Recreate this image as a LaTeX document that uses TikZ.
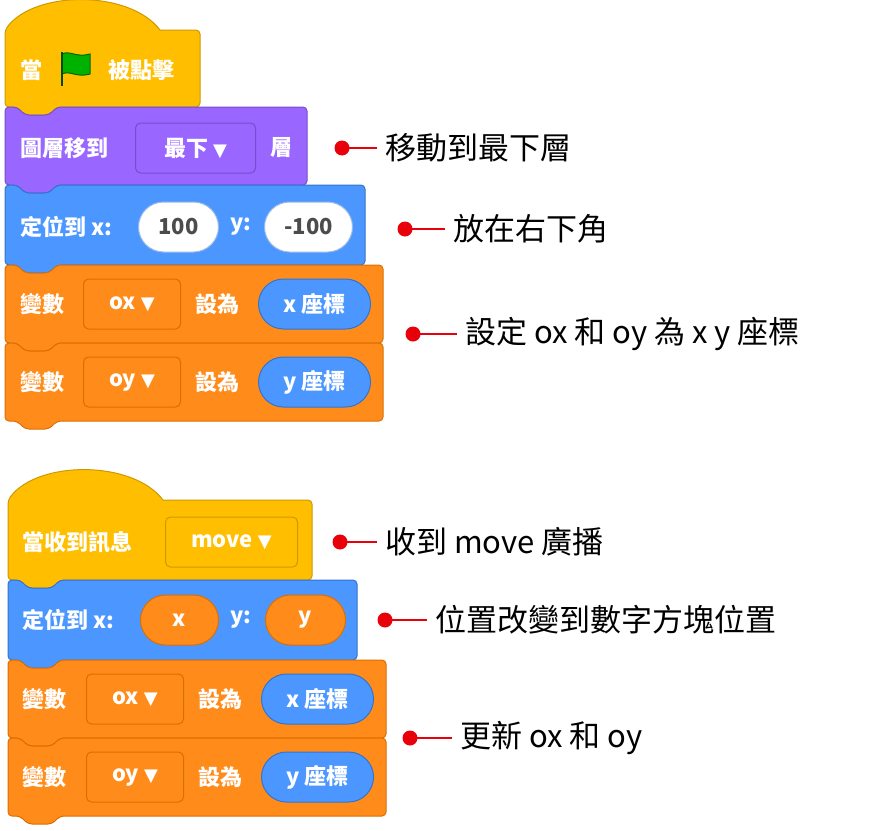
\documentclass[tikz,border=0pt]{standalone}
\usepackage{fontspec}
\setmainfont{Noto Sans CJK TC}
\newfontfamily\dejavu{DejaVu Sans}
\definecolor{yel}{HTML}{FFBF00}\definecolor{yelb}{HTML}{CC9900}
\definecolor{pur}{HTML}{9966FF}\definecolor{purb}{HTML}{774DCB}
\definecolor{blu}{HTML}{4C97FF}\definecolor{blub}{HTML}{3373CC}
\definecolor{ora}{HTML}{FF8C1A}\definecolor{orab}{HTML}{DB6E00}
\definecolor{redd}{HTML}{E8000B}
\newcommand\blk[6]{% x y w h fill stroke
  \draw[fill=#5,draw=#6,line width=1pt,rounded corners=4pt]
   (#1,#2) -- (#1+12,#2) -- (#1+20,#2+8) -- (#1+44,#2+8) -- (#1+52,#2) -- (#1+#3,#2) -- (#1+#3,#2+#4)
   -- (#1+52,#2+#4) -- (#1+44,#2+#4+8) -- (#1+20,#2+#4+8) -- (#1+12,#2+#4) -- (#1,#2+#4) -- cycle;}
\newcommand\hatblk[6]{%
  \draw[fill=#5,draw=#6,line width=1pt,rounded corners=4pt]
   (#1,#2) [sharp corners].. controls (#1+30,#2-40) and (#1+125,#2-40) .. (#1+155,#2) [rounded corners=4pt] -- (#1+#3,#2) -- (#1+#3,#2+#4)
   -- (#1+52,#2+#4) -- (#1+44,#2+#4+8) -- (#1+20,#2+#4+8) -- (#1+12,#2+#4) -- (#1,#2+#4) -- cycle;}
\tikzset{
 btxt/.style={text=white,font=\fontsize{22}{24}\selectfont\bfseries,anchor=west,inner sep=0},
 dd/.style={draw=#1,line width=1pt,rounded corners=5pt,minimum height=50pt,text=white,font=\fontsize{22}{24}\selectfont\bfseries,anchor=west},
 ov/.style={rounded corners=25pt,minimum height=50pt,line width=1pt,font=\fontsize{22}{24}\selectfont\bfseries,anchor=west},
 ann/.style={font=\fontsize{31}{34}\selectfont,anchor=west,inner sep=0},
 dot/.style={circle,fill=redd,inner sep=0,minimum size=15pt},
}
\newcommand\tri{\ {\dejavu\fontsize{18}{20}\selectfont ▼}}
\begin{document}
\begin{tikzpicture}[x=1pt,y=-1pt]
\useasboundingbox (0,0) rectangle (888,830);
% script 1
\hatblk{5}{30}{195}{77}{yel}{yelb}
\node[btxt] (t1) at (20,70) {當};
\begin{scope}[shift={(62,54)}]
 \draw[draw=green!40!black,line width=1pt,fill=green!70!black]
  (0,0) .. controls (8,-4) and (14,4) .. (28,0) -- (28,20) .. controls (14,24) and (8,16) .. (0,20) -- cycle;
 \draw[green!30!black,line width=2.5pt] (0,-2) -- (0,32);
\end{scope}
\node[btxt] (t2) at (108,70) {被點擊};
\blk{5}{107}{302}{78}{pur}{purb}
\node[btxt] (p1) at (20,148) {圖層移到};
\node[dd=purb,fill=pur,minimum width=120pt] (p2) at (135,148) {最下\tri};
\node[btxt] (p3) at (270,148) {層};
\blk{5}{185}{360}{80}{blu}{blub}
\node[btxt] (b1) at (20,227) {定位到 x:};
\node[ov,fill=white,draw=blub!50,text=black!70,minimum width=80pt] (b2) at (138,227) {100};
\node[btxt] (b3) at (230,227) {y:};
\node[ov,fill=white,draw=blub!50,text=black!70,minimum width=88pt] (b4) at (264,227) {-100};
\blk{5}{265}{378}{78}{ora}{orab}
\node[btxt] (o1) at (20,304) {變數};
\node[dd=orab,fill=ora,minimum width=97pt] (o2) at (83,304) {ox\tri};
\node[btxt] (o3) at (195,304) {設為};
\node[ov,fill=blu,draw=blub,text=white,minimum width=112pt] (o4) at (258,304) {x 座標};
\blk{5}{343}{378}{78}{ora}{orab}
\node[btxt] (q1) at (20,382) {變數};
\node[dd=orab,fill=ora,minimum width=97pt] (q2) at (83,382) {oy\tri};
\node[btxt] (q3) at (195,382) {設為};
\node[ov,fill=blu,draw=blub,text=white,minimum width=112pt] (q4) at (258,382) {y 座標};
% script 2
\hatblk{8}{500}{304}{80}{yel}{yelb}
\node[btxt] (h1) at (22,542) {當收到訊息};
\node[dd=yelb,fill=yel,minimum width=132pt] (h2) at (165,542) {move\tri};
\blk{8}{580}{349}{80}{blu}{blub}
\node[btxt] (c1) at (22,620) {定位到 x:};
\node[ov,fill=ora,draw=orab,text=white,minimum width=78pt] (c2) at (140,620) {x};
\node[btxt] (c3) at (230,620) {y:};
\node[ov,fill=ora,draw=orab,text=white,minimum width=80pt] (c4) at (265,620) {y};
\blk{8}{660}{378}{78}{ora}{orab}
\node[btxt] (r1) at (22,699) {變數};
\node[dd=orab,fill=ora,minimum width=97pt] (r2) at (86,699) {ox\tri};
\node[btxt] (r3) at (198,699) {設為};
\node[ov,fill=blu,draw=blub,text=white,minimum width=112pt] (r4) at (261,699) {x 座標};
\blk{8}{738}{378}{78}{ora}{orab}
\node[btxt] (s1) at (22,777) {變數};
\node[dd=orab,fill=ora,minimum width=97pt] (s2) at (86,777) {oy\tri};
\node[btxt] (s3) at (198,777) {設為};
\node[ov,fill=blu,draw=blub,text=white,minimum width=112pt] (s4) at (261,777) {y 座標};
% annotations
\newcommand\ann[5]{\node[dot] (#1d) at (#2,#3) {}; \node[ann] (#1t) at (#4,#3) {#5}; \draw[redd,line width=2.5pt] (#1d.center) -- ([xshift=-8pt]#1t.west);}
\ann{a}{342}{148}{385}{移動到最下層}
\ann{b}{405}{229}{453}{放在右下角}
\ann{c}{413}{334}{465}{設定 ox 和 oy 為 x y 座標}
\ann{d}{340}{542}{385}{收到 move 廣播}
\ann{e}{385}{620}{435}{位置改變到數字方塊位置}
\ann{f}{410}{738}{460}{更新 ox 和 oy}
\end{tikzpicture}
\end{document}
